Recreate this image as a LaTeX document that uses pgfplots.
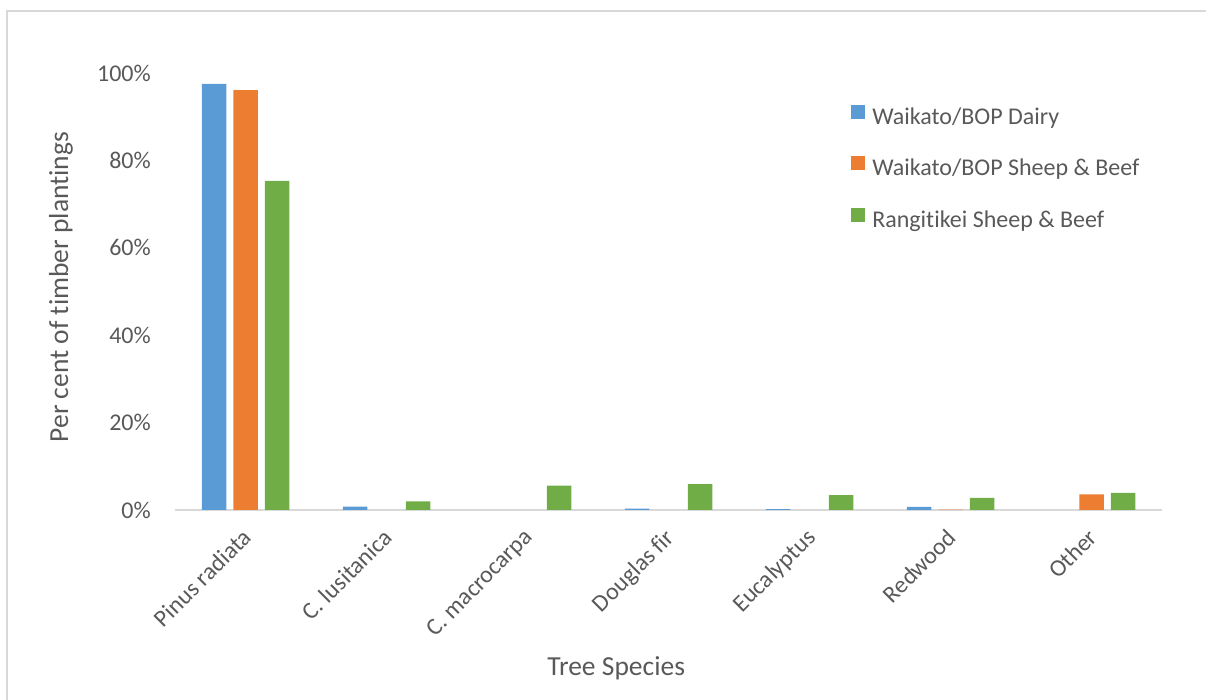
\documentclass[border=0pt]{standalone}
\usepackage{fontspec}
\setmainfont{Carlito}[Ligatures={NoCommon}]
\usepackage{pgfplots}
\pgfplotsset{compat=1.18}

\definecolor{dairy}{HTML}{5B9BD5}
\definecolor{wsb}{HTML}{ED7D31}
\definecolor{rsb}{HTML}{70AD47}
\definecolor{labelgray}{HTML}{595959}
\definecolor{linegray}{HTML}{D9D9D9}

\newcommand{\ticksize}{\fontsize{24}{28}\selectfont}
\newcommand{\titlesize}{\fontsize{27.5}{32}\selectfont}

\begin{document}
\begin{tikzpicture}[x=1pt,y=1pt]
\useasboundingbox (0,0) rectangle (1206,700);
% chart frame
\draw[linegray, line width=1.3pt] (7,0) -- (7,689) -- (1206,689);

\begin{axis}[
  at={(175pt,190pt)}, anchor=south west,
  scale only axis, width=987pt, height=437pt,
  xmin=-0.5, xmax=6.5, ymin=0, ymax=100,
  ybar=7pt, bar width=24.5pt,
  axis x line=bottom, axis y line=left,
  x axis line style={linegray, line width=1.5pt, -},
  y axis line style={draw=none},
  major tick length=0pt,
  xtick={0,...,6},
  xticklabels={Pinus radiata, C. lusitanica, C. macrocarpa, Douglas fir, Eucalyptus, Redwood, Other},
  ytick={0,20,...,100},
  yticklabel={\pgfmathprintnumber{\tick}\%},
  /pgf/number format/assume math mode=true,
  tick label style={font=\ticksize, text=labelgray},
  xticklabel style={rotate=45, anchor=north east, inner sep=0pt, xshift=-15.4pt, yshift=-8.9pt},
  yticklabel style={anchor=east, inner sep=0pt, xshift=-24pt},
  xlabel={Tree Species},
  ylabel={Per cent of timber plantings},
  label style={font=\titlesize, text=labelgray},
  xlabel style={at={(axis description cs:0.447,-0.3616)}, anchor=center},
  ylabel style={at={(axis description cs:-0.1155,0.51)}, anchor=center, rotate=0},
  legend image code/.code={\fill[#1] (0pt,0pt) rectangle (14pt,14pt);},
  legend cell align=left,
  legend style={at={(rel axis cs:0.685,0.928)}, anchor=north west,
    draw=none, fill=none, inner sep=0pt, row sep=26pt,
    font=\ticksize, text=labelgray,
    nodes={inner sep=0pt, text height=17pt, text depth=6pt}},
]
\addplot[fill=dairy, draw=none] coordinates {(0,97.5) (1,0.75) (3,0.3) (4,0.2) (5,0.7)};
\addplot[fill=wsb, draw=none] coordinates {(0,96.1) (5,0.1) (6,3.6)};
\addplot[fill=rsb, draw=none] coordinates {(0,75.3) (1,2.0) (2,5.6) (3,5.9) (4,3.4) (5,2.8) (6,3.9)};
\legend{\hspace{7pt}Waikato/BOP Dairy, \hspace{7pt}Waikato/BOP Sheep \& Beef, \hspace{7pt}Rangitikei Sheep \& Beef}
\end{axis}
\end{tikzpicture}
\end{document}
